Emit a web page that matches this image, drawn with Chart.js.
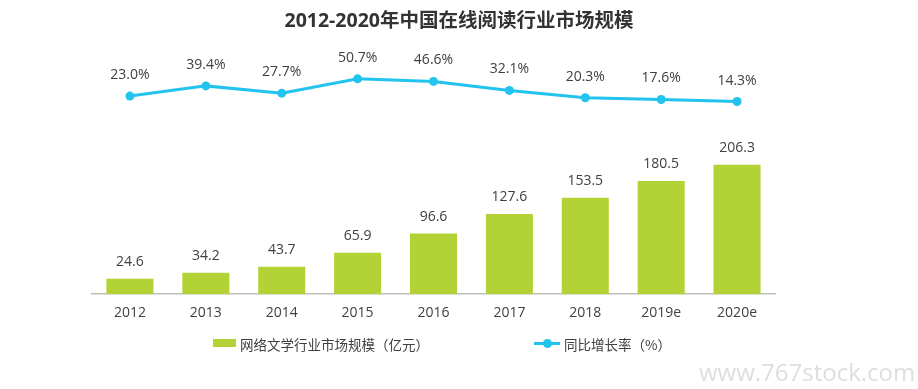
<!DOCTYPE html>
<html>
<head>
<meta charset="utf-8">
<script src="https://cdn.jsdelivr.net/npm/chart.js@4/dist/chart.umd.min.js"></script>
<style>
  html, body { margin: 0; padding: 0; background: #fff; }
  #wrap { position: relative; width: 918px; height: 389px; overflow: hidden; }
  canvas { position: absolute; left: 0; top: 0; }
  #title { position: absolute; left: 0; top: 4px; width: 918px; text-align: center; font-family: "Open Sans", "Noto Sans CJK SC", sans-serif; font-size: 19.5px; font-weight: bold; color: #333333; white-space: nowrap; }
  .lg { position: absolute; font-family: "Noto Sans CJK SC", "Open Sans", sans-serif; font-size: 13.5px; color: #404040; white-space: nowrap; }
  #wm { position: absolute; left: 699px; top: 355px; font-family: "Open Sans", sans-serif; font-size: 24px; color: #dedede; }
</style>
</head>
<body>
<div id="wrap">
  <canvas id="c" width="918" height="389"></canvas>
  <div id="title"></div>
  <div id="lg1" class="lg"></div>
  <div id="lg2" class="lg"></div>
  <div id="wm">www.767stock.com</div>
</div>
<script>
const categories = ["2012", "2013", "2014", "2015", "2016", "2017", "2018", "2019e", "2020e"];
const marketSize = [24.6, 34.2, 43.7, 65.9, 96.6, 127.6, 153.5, 180.5, 206.3];
const growthRate = [23.0, 39.4, 27.7, 50.7, 46.6, 32.1, 20.3, 17.6, 14.3];
const barLabel = "网络文学行业市场规模（亿元）";
const lineLabel = "同比增长率（%）";
const titleText = "2012-2020年中国在线阅读行业市场规模";

const BAR_COLOR = "#b2d235";
const LINE_COLOR = "#22c3ee";
const TEXT_COLOR = "#404040";
const FONT = '"Open Sans", "Noto Sans CJK SC", sans-serif';

document.getElementById("title").textContent = titleText;

const valueLabels = {
  id: "valueLabels",
  afterDatasetsDraw(chart) {
    const ctx = chart.ctx;
    ctx.save();
    ctx.fillStyle = TEXT_COLOR;
    ctx.font = "14px " + FONT;
    ctx.textAlign = "center";
    ctx.textBaseline = "middle";
    chart.getDatasetMeta(0).data.forEach((el, i) => {
      ctx.fillText(marketSize[i].toFixed(1), el.x, el.y - 17);
    });
    chart.getDatasetMeta(1).data.forEach((el, i) => {
      ctx.fillText(growthRate[i].toFixed(1) + "%", el.x, el.y - 21);
    });
    ctx.restore();
  }
};

const chart = new Chart(document.getElementById("c"), {
  data: {
    labels: categories,
    datasets: [
      {
        type: "bar",
        label: barLabel,
        data: marketSize,
        backgroundColor: BAR_COLOR,
        yAxisID: "yBar",
        categoryPercentage: 1,
        barPercentage: 0.62,
        order: 2
      },
      {
        type: "line",
        label: lineLabel,
        data: growthRate,
        borderColor: LINE_COLOR,
        backgroundColor: LINE_COLOR,
        borderWidth: 3,
        pointRadius: 4.5,
        pointBackgroundColor: LINE_COLOR,
        pointBorderWidth: 0,
        tension: 0,
        yAxisID: "yLine",
        order: 1
      }
    ]
  },
  options: {
    responsive: false,
    animation: false,
    devicePixelRatio: 1,
    layout: { padding: { left: 92, right: 143, top: 50, bottom: 66 } },
    plugins: {
      legend: { display: false },
      tooltip: { enabled: false },
      title: { display: false }
    },
    scales: {
      x: {
        grid: { display: false },
        border: { display: true, color: "#bfbfbf", width: 1.5 },
        ticks: { color: TEXT_COLOR, font: { family: FONT, size: 14 }, padding: 2 }
      },
      yBar: { display: false, min: 0, max: 389 },
      yLine: { display: false, min: -295, max: 97 }
    }
  },
  plugins: [valueLabels]
});

const lg1 = document.getElementById("lg1");
lg1.innerHTML = '<span style="display:inline-block;width:23px;height:8px;background:' + BAR_COLOR + ';vertical-align:middle;margin-right:4px;position:relative;top:-3px"></span>' + barLabel;
lg1.style.left = "213px";
lg1.style.top = "334px";
const lg2 = document.getElementById("lg2");
lg2.innerHTML = '<span style="display:inline-block;position:relative;width:26px;height:8px;vertical-align:middle;margin-right:4px;top:-3px">' +
  '<span style="position:absolute;left:0;top:3px;width:26px;height:3px;background:' + LINE_COLOR + '"></span>' +
  '<span style="position:absolute;left:9px;top:0;width:9px;height:9px;border-radius:50%;background:' + LINE_COLOR + '"></span></span>' + lineLabel;
lg2.style.left = "534px";
lg2.style.top = "334px";
</script>
</body>
</html>
